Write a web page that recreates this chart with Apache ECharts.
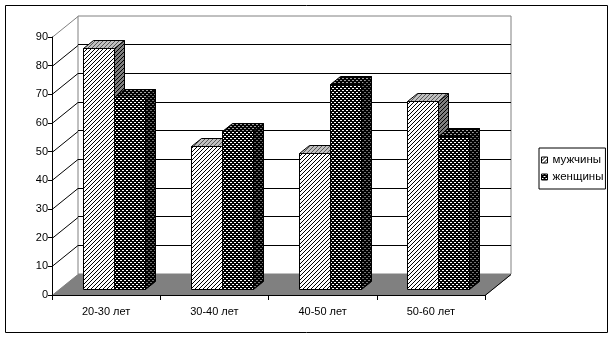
<!DOCTYPE html>
<html><head><meta charset="utf-8">
<script src="https://cdn.jsdelivr.net/npm/echarts@6/dist/echarts.min.js"></script>
<style>html,body{margin:0;padding:0;background:#fff}#c{width:613px;height:337px}</style>
</head><body><div id="c"></div>
<script>
// ---- data ----
const categories = ['20-30 лет', '30-40 лет', '40-50 лет', '50-60 лет'];
const menValues = [84, 50, 47.5, 65.5];
const womenValues = [67, 55, 71.5, 53.5];
const seriesNames = ['мужчины', 'женщины'];
const yTickValues = [0, 10, 20, 30, 40, 50, 60, 70, 80, 90];
const yMin = 0, yMax = 90, yStep = 10;

// ---- geometry / style ----
const DEPTH = [26, -21];      // full-depth pixel offset of the 3D box
const FRONT = 0.285, BACK = 0.67; // bar front/back planes as depth fractions
const BAR_FRAC = 0.29;        // bar width as fraction of category band
const FONT = 'Liberation Sans, Arial, sans-serif';

function pat(bg, fg, pts, w, h) {
  const c = document.createElement('canvas');
  c.width = w || 4; c.height = h || 4;
  const ctx = c.getContext('2d');
  ctx.fillStyle = bg; ctx.fillRect(0, 0, c.width, c.height);
  ctx.fillStyle = fg;
  pts.forEach(p => ctx.fillRect(p[0], p[1], 1, 1));
  return { image: c, repeat: 'repeat' };
}
const diag = [[3, 0], [2, 1], [1, 2], [0, 3]];
const weave = [[0, 0], [1, 0], [2, 2], [3, 2]];
const fills = [
  { front: pat('#ffffff', '#000000', diag), top: pat('#c0c0c0', '#555555', diag), side: pat('#808080', '#000000', diag) },
  { front: pat('#000000', '#ffffff', weave), top: pat('#000000', '#a0a0a0', weave), side: pat('#000000', '#707070', weave) }
];

function barRenderer(s) {
  return function (params, api) {
    const i = api.value(0), v = api.value(1);
    const base = api.coord([i, 0]), top = api.coord([i, v]);
    const bw = api.size([1, 0])[0];
    const w = Math.round(bw * BAR_FRAC);
    const ox = DEPTH[0] * FRONT, oy = DEPTH[1] * FRONT;
    const ddx = Math.round(DEPTH[0] * (BACK - FRONT)), ddy = Math.round(DEPTH[1] * (BACK - FRONT));
    const x0 = Math.round(base[0] + ox - (s === 0 ? w : 0)) + 0.5;
    const x1 = x0 + w;
    const yb = Math.round(base[1] + oy) + 0.5;
    const yt = Math.round(top[1] + oy) + 0.5;
    const st = f => ({ fill: f, stroke: '#000', lineWidth: 1 });
    return {
      type: 'group',
      children: [
        { type: 'polygon', shape: { points: [[x0, yt], [x1, yt], [x1, yb], [x0, yb]] }, style: st(fills[s].front) },
        { type: 'polygon', shape: { points: [[x1, yt], [x1 + ddx, yt + ddy], [x1 + ddx, yb + ddy], [x1, yb]] }, style: st(fills[s].side) },
        { type: 'polygon', shape: { points: [[x0, yt], [x1, yt], [x1 + ddx, yt + ddy], [x0 + ddx, yt + ddy]] }, style: st(fills[s].top) }
      ]
    };
  };
}

function wallRenderer(params, api) {
  const v = api.value(1);
  if (v === yMin) return null;
  const p = api.coord([0, v]);
  const bw = api.size([1, 0])[0];
  const x = Math.round(p[0] - bw / 2), y = Math.round(p[1]) + 0.5;
  return {
    type: 'line',
    shape: { x1: x, y1: y, x2: x + DEPTH[0], y2: y + DEPTH[1] },
    style: { stroke: v === yMax ? '#808080' : '#000', lineWidth: 1 }
  };
}

function floorRenderer(params, api) {
  const bw = api.size([1, 0])[0];
  const a = api.coord([0, yMin]), b = api.coord([categories.length - 1, yMin]);
  const xl = Math.round(a[0] - bw / 2), xr = Math.round(b[0] + bw / 2), y = Math.round(a[1]) + 0.5;
  return {
    type: 'group',
    children: [
      { type: 'polygon', shape: { points: [[xl, y], [xr, y], [xr + DEPTH[0], y + DEPTH[1]], [xl + DEPTH[0], y + DEPTH[1]]] },
        style: { fill: '#808080', stroke: '#808080', lineWidth: 1 } },
      { type: 'line', shape: { x1: xr, y1: y, x2: xr + DEPTH[0], y2: y + DEPTH[1] }, style: { stroke: '#000', lineWidth: 1 } }
    ]
  };
}

const chart = echarts.init(document.getElementById('c'), null, { renderer: 'canvas' });
chart.setOption({
  backgroundColor: '#fff',
  animation: false,
  textStyle: { fontFamily: FONT },
  grid: [
    { left: 52, top: 37, width: 433, height: 258, show: false },
    { left: 78, top: 16, width: 433, height: 258, show: true, borderColor: '#808080', borderWidth: 1, backgroundColor: 'transparent' }
  ],
  xAxis: [
    { gridIndex: 0, type: 'category', data: categories, z: 5,
      axisLine: { show: true, lineStyle: { color: '#000', width: 1 } },
      axisTick: { show: true, length: 5, lineStyle: { color: '#000' } },
      axisLabel: { color: '#000', fontSize: 11, margin: 11, fontFamily: FONT } },
    { gridIndex: 1, type: 'category', data: categories, show: false }
  ],
  yAxis: [
    { gridIndex: 0, type: 'value', min: yMin, max: yMax, interval: yStep, z: 5,
      axisLine: { show: true, lineStyle: { color: '#000', width: 1 } },
      axisTick: { show: true, length: 4, lineStyle: { color: '#000' } },
      axisLabel: { color: '#000', fontSize: 11, margin: 4, fontFamily: FONT },
      splitLine: { show: false } },
    { gridIndex: 1, type: 'value', min: yMin, max: yMax, interval: yStep,
      axisLine: { show: false }, axisTick: { show: false }, axisLabel: { show: false },
      splitLine: { show: true, showMinLine: false, showMaxLine: false, lineStyle: { color: '#000', width: 1 } } }
  ],
  legend: {
    orient: 'vertical', left: 539, top: 148,
    padding: [5, 2, 5, 2], itemWidth: 6, itemHeight: 6, itemGap: 3, itemTextGap: 3, icon: 'rect',
    borderColor: '#000', borderWidth: 1,
    textStyle: { fontSize: 11.5, color: '#000', fontFamily: FONT, lineHeight: 14 },
    itemStyle: { borderColor: '#000', borderWidth: 1 },
    selectedMode: false,
    data: [
      { name: seriesNames[0], itemStyle: { color: fills[0].front } },
      { name: seriesNames[1], itemStyle: { color: fills[1].front } }
    ]
  },
  graphic: [
    { type: 'rect', shape: { x: 5.5, y: 5.5, width: 602, height: 327 }, style: { fill: 'none', stroke: '#000', lineWidth: 1 }, z: 100 }
  ],
  series: [
    { type: 'custom', name: 'wall', xAxisIndex: 0, yAxisIndex: 0, z: 1, silent: true,
      renderItem: wallRenderer, data: yTickValues.map(v => [0, v]), encode: { x: 0, y: 1 } },
    { type: 'custom', name: 'floor', xAxisIndex: 0, yAxisIndex: 0, z: 2, silent: true,
      renderItem: floorRenderer, data: [[0, yMin]], encode: { x: 0, y: 1 } },
    { type: 'custom', name: seriesNames[0], xAxisIndex: 0, yAxisIndex: 0, z: 3,
      itemStyle: { color: fills[0].front },
      renderItem: barRenderer(0), data: menValues.map((v, i) => [i, v]), encode: { x: 0, y: 1 } },
    { type: 'custom', name: seriesNames[1], xAxisIndex: 0, yAxisIndex: 0, z: 4,
      itemStyle: { color: fills[1].front },
      renderItem: barRenderer(1), data: womenValues.map((v, i) => [i, v]), encode: { x: 0, y: 1 } }
  ]
});
</script></body></html>
